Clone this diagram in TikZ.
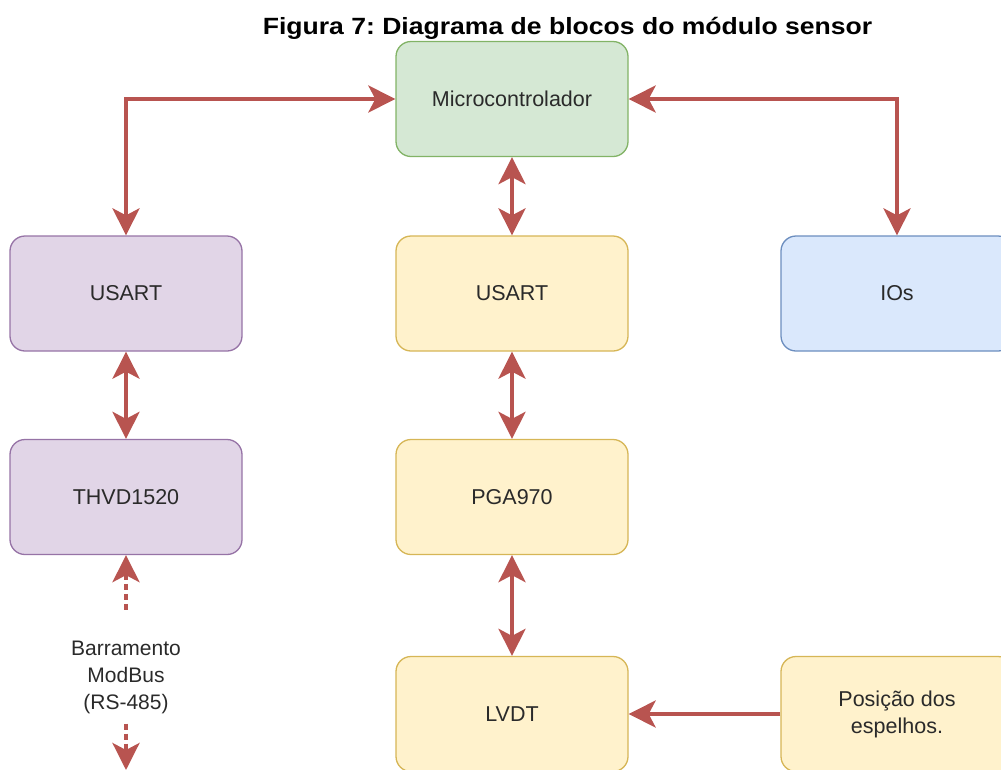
\documentclass[tikz,border=0pt]{standalone}
\usepackage{fontspec}
\setmainfont{Liberation Sans}
\usetikzlibrary{arrows.meta}
\definecolor{linkred}{HTML}{B85450}
\definecolor{gfill}{HTML}{D5E8D4}\definecolor{gdraw}{HTML}{82B366}
\definecolor{pfill}{HTML}{E1D5E7}\definecolor{pdraw}{HTML}{9673A6}
\definecolor{yfill}{HTML}{FFF2CC}\definecolor{ydraw}{HTML}{D6B656}
\definecolor{bfill}{HTML}{DAE8FC}\definecolor{bdraw}{HTML}{6C8EBF}
\definecolor{txt}{HTML}{2A2A2A}
\tikzset{
  blockbox/.style={rectangle, rounded corners=15pt, minimum width=232pt, minimum height=115pt,
    line width=1.3pt, text=txt, font=\fontsize{21.5}{27}\selectfont, align=center},
  greenbox/.style={blockbox, fill=gfill, draw=gdraw},
  purplebox/.style={blockbox, fill=pfill, draw=pdraw},
  yellowbox/.style={blockbox, fill=yfill, draw=ydraw},
  bluebox/.style={blockbox, fill=bfill, draw=bdraw},
  tip/.tip={Stealth[length=27pt, width=27pt, inset=7pt]},
  conn/.style={draw=linkred, line width=4pt, {tip}-{tip}},
  conn1/.style={draw=linkred, line width=4pt, -{tip}},
  dline/.style={draw=linkred, line width=4pt, dash pattern=on 6pt off 4pt},
  buslabel/.style={text=txt, align=center, font=\fontsize{21}{27}\selectfont, inner sep=0pt},
  titletext/.style={font=\bfseries\fontsize{23.5}{27}\selectfont, text=black, anchor=base, inner sep=0pt}
}
\begin{document}
\frenchspacing
\begin{tikzpicture}[x=1pt, y=-1pt]
\useasboundingbox (0,0) rectangle (1001,769);
\clip (0,0) rectangle (1001,769);
\node[titletext] (title) at (567.5,34.5) {\scalebox{1.13}[1]{Figura 7: Diagrama de blocos do módulo sensor}};

\node[greenbox] (micro) at (512,99) {Microcontrolador};
\node[purplebox] (usartL) at (126,293.5) {USART};
\node[yellowbox] (usartM) at (512,293.5) {USART};
\node[bluebox] (ios) at (897,293.5) {IOs};
\node[purplebox] (thvd) at (126,497) {THVD1520};
\node[yellowbox] (pga) at (512,497) {PGA970};
\node[yellowbox] (lvdt) at (512,714) {LVDT};
\node[yellowbox] (pos) at (897,714) {Posição dos\\espelhos.};

\node[buslabel] (bus) at (126,677) {Barramento\\ModBus\\(RS-485)};
\coordinate (busEnd) at (126,770);

\draw[conn] (usartL.north) |- (micro.west);
\draw[conn] (micro.east) -| (ios.north);
\draw[conn] (micro.south) -- (usartM.north);
\draw[conn] (usartM.south) -- (pga.north);
\draw[conn] (pga.south) -- (lvdt.north);
\draw[conn] (usartL.south) -- (thvd.north);
\draw[conn1] (pos.west) -- (lvdt.east);
\draw[dline, {tip}-] (thvd.south) -- ([yshift=28pt]bus.north);
\draw[dline, -{tip}] ([yshift=-10pt]bus.south) -- (busEnd);
\end{tikzpicture}
\end{document}
